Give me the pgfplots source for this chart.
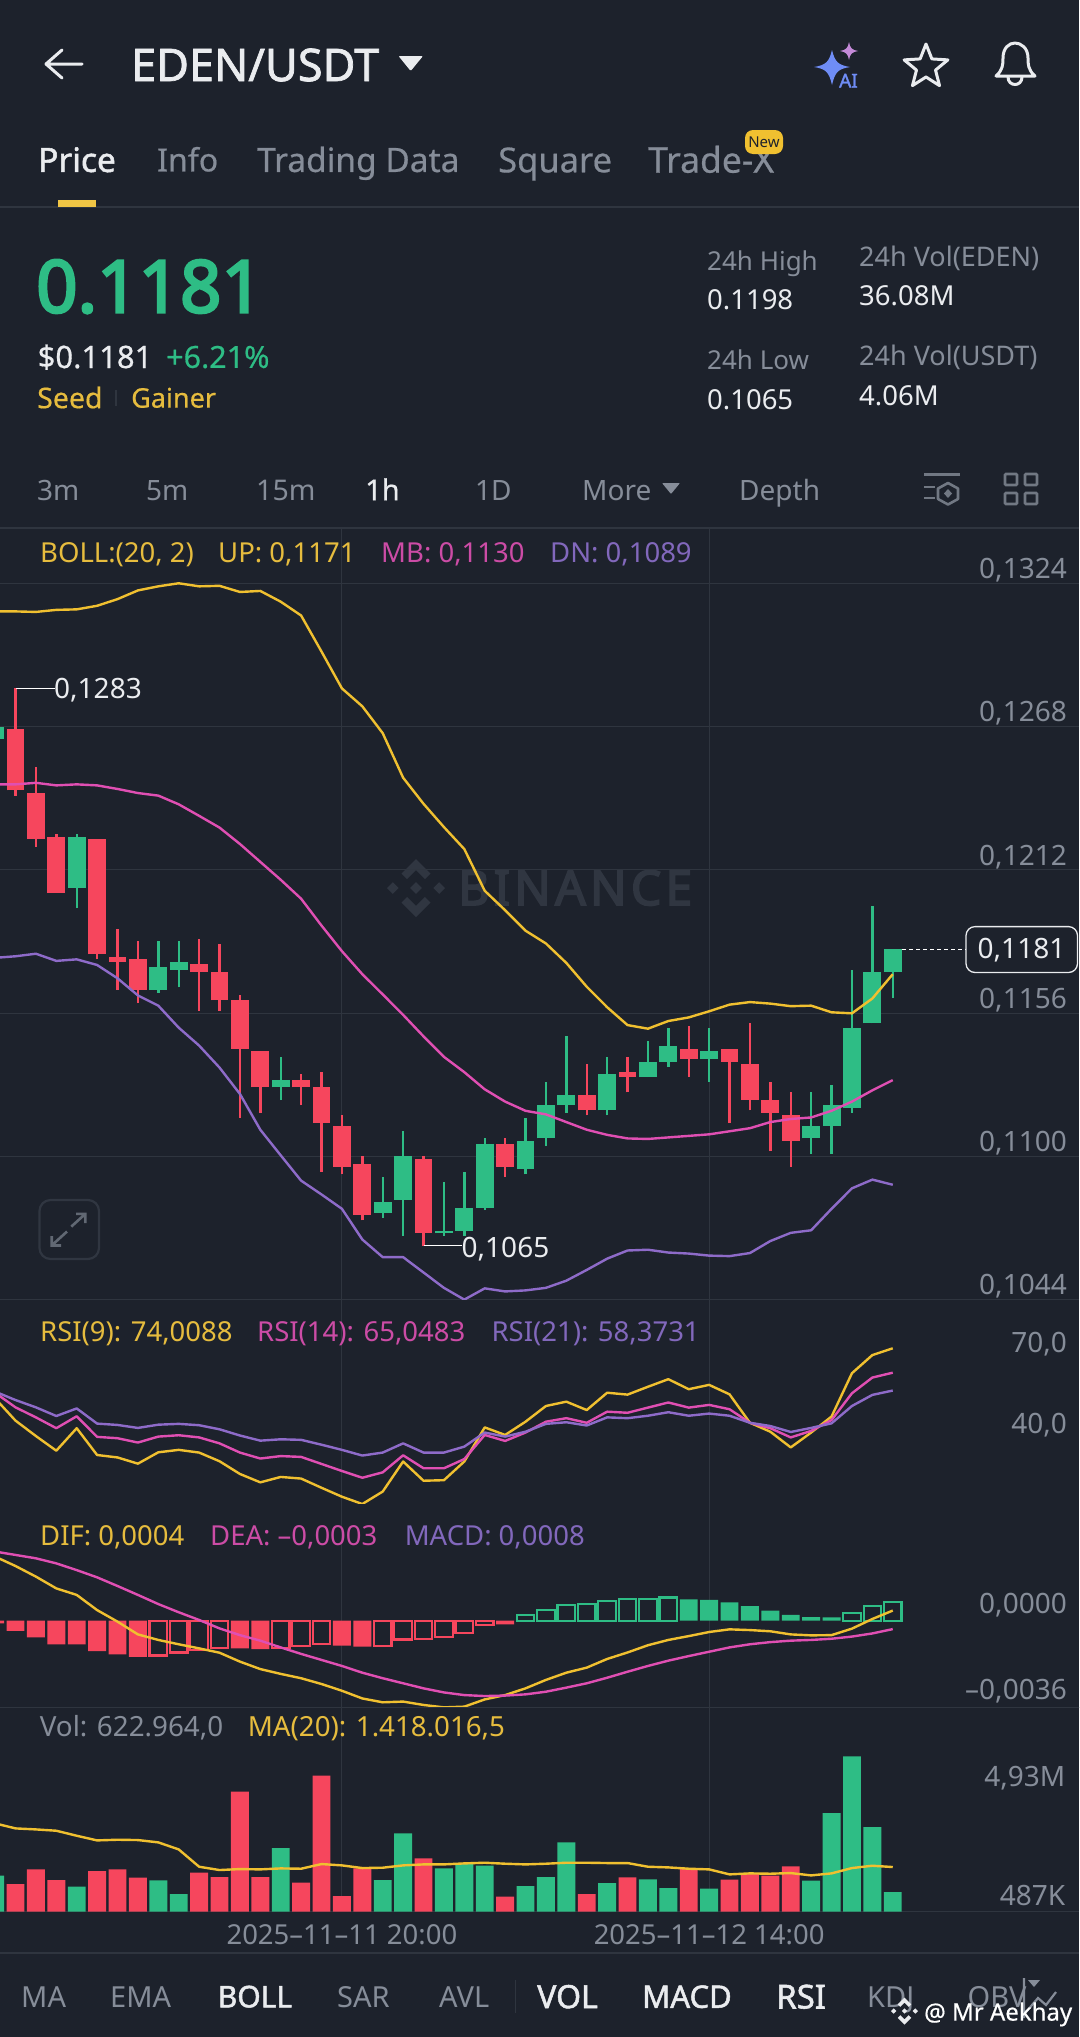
\documentclass[border=0pt]{standalone}
\usepackage{fontspec}
\usepackage{pgfplots}
\usepackage{pgfplotstable}
\pgfplotsset{compat=1.18}
\usetikzlibrary{shapes.geometric}
\setmainfont{Noto Sans}
\newfontfamily\xb{Noto Sans}[FakeBold=3.5]
\newfontfamily\bd{Noto Sans}[FakeBold=1.6]
\newfontfamily\md{Noto Sans}[FakeBold=0.5]
\definecolor{bg}{HTML}{1D222C}
\definecolor{gridc}{HTML}{2F353F}
\definecolor{upc}{HTML}{2EBD85}
\definecolor{dnc}{HTML}{F6465D}
\definecolor{yl}{HTML}{F0C030}
\definecolor{pk}{HTML}{E04FB3}
\definecolor{pu}{HTML}{8E6BC9}
\definecolor{tyl}{HTML}{E6BC3E}
\definecolor{tpk}{HTML}{CC4CA6}
\definecolor{tpu}{HTML}{8268BC}
\definecolor{gr}{HTML}{868D99}
\definecolor{wt}{HTML}{EAECEF}
\definecolor{wm}{HTML}{303641}
\definecolor{aiblue}{HTML}{6F8DF6}
\definecolor{aipink}{HTML}{C48AD8}
\newcommand{\fs}[1]{\fontsize{#1}{#1}\selectfont}
\newcommand{\T}[5]{\node[anchor=base west,inner sep=0pt,text=#3,font=\fs{#4}] at (#1,{#2+0.357*#4}) {#5};}
\newcommand{\TR}[5]{\node[anchor=base east,inner sep=0pt,text=#3,font=\fs{#4}] at (#1,{#2+0.357*#4}) {#5};}
% candles: index, OHLC, volume in millions
\pgfplotstableread{
i open high low close vol
-1 0.1263 0.1270 0.1262 0.1268 1.143
3 0.1205 0.1226 0.1197 0.1225 0.794
7 0.1165 0.1184 0.1164 0.1174 0.995
8 0.1173 0.1184 0.1166 0.1176 0.561
13 0.1127 0.1139 0.1122 0.1130 2.021
18 0.1078 0.1092 0.1076 0.1082 1.005
19 0.1083 0.1110 0.1069 0.1100 2.486
21 0.1070 0.1090 0.1069 0.1071 1.375
22 0.1071 0.1094 0.1069 0.1080 1.534
23 0.1080 0.1107 0.1079 0.1105 1.460
25 0.1095 0.1115 0.1093 0.1106 0.815
26 0.1107 0.1129 0.1104 0.1120 1.100
27 0.1120 0.1147 0.1117 0.1124 2.201
29 0.1118 0.1139 0.1116 0.1132 0.910
31 0.1131 0.1145 0.1131 0.1137 1.026
32 0.1137 0.1150 0.1135 0.1143 0.751
34 0.1138 0.1150 0.1129 0.1141 0.730
39 0.1107 0.1125 0.1101 0.1112 0.984
40 0.1112 0.1128 0.1101 0.1120 3.132
41 0.1119 0.1173 0.1117 0.1150 4.930
42 0.1152 0.1198 0.1152 0.1172 2.687
43 0.1172 0.1181 0.1162 0.1181 0.623
}\upcandles
\pgfplotstableread{
i open high low close vol
0 0.1267 0.1283 0.1241 0.1243 0.878
1 0.1242 0.1252 0.1221 0.1224 1.344
2 0.1225 0.1226 0.1203 0.1203 1.005
4 0.1224 0.1224 0.1177 0.1179 1.291
5 0.1178 0.1189 0.1165 0.1176 1.344
6 0.1177 0.1184 0.1160 0.1165 1.079
9 0.1175 0.1185 0.1157 0.1172 1.238
10 0.1172 0.1183 0.1157 0.1161 1.100
11 0.1161 0.1163 0.1115 0.1142 3.809
12 0.1141 0.1141 0.1117 0.1127 1.100
14 0.1130 0.1132 0.1120 0.1127 0.920
15 0.1127 0.1133 0.1094 0.1113 4.317
16 0.1112 0.1116 0.1093 0.1096 0.497
17 0.1097 0.1100 0.1075 0.1077 1.375
20 0.1099 0.1100 0.1065 0.1070 1.693
24 0.1105 0.1107 0.1092 0.1096 0.476
28 0.1124 0.1136 0.1116 0.1118 0.561
30 0.1133 0.1139 0.1125 0.1131 1.090
33 0.1142 0.1151 0.1131 0.1138 1.354
35 0.1142 0.1142 0.1113 0.1137 1.016
36 0.1136 0.1152 0.1118 0.1122 1.196
37 0.1122 0.1129 0.1102 0.1117 1.143
38 0.1116 0.1125 0.1096 0.1106 1.439
}\dncandles
\pgfplotstableread{
i up mb dn r9 r14 r21 dif dea ma
-1 0.13130 0.12454 0.11776 55.5 57.6 58.0 0.00266 0.00287 2.804
0 0.13130 0.12454 0.11782 47.3 52.2 54.9 0.00227 0.00273 2.645
1 0.13128 0.12460 0.11792 41.6 48.5 52.2 0.00183 0.00259 2.613
2 0.13136 0.12450 0.11764 36.2 44.5 49.0 0.00134 0.00238 2.571
3 0.13138 0.12454 0.11770 44.5 48.9 51.8 0.00107 0.00210 2.412
4 0.13152 0.12450 0.11748 34.6 41.3 46.2 0.00044 0.00180 2.264
5 0.13178 0.12436 0.11696 33.7 40.8 45.7 -0.00004 0.00144 2.285
6 0.13212 0.12420 0.11629 31.4 39.2 44.6 -0.00057 0.00107 2.275
7 0.13228 0.12410 0.11589 35.6 41.4 45.8 -0.00080 0.00069 2.201
8 0.13240 0.12376 0.11503 36.5 41.9 46.1 -0.00098 0.00035 1.978
9 0.13228 0.12331 0.11433 35.5 41.1 45.6 -0.00115 0.00003 1.428
10 0.13230 0.12285 0.11347 32.3 38.9 44.1 -0.00133 -0.00032 1.323
11 0.13206 0.12221 0.11244 27.6 35.5 41.8 -0.00170 -0.00060 1.354
12 0.13210 0.12151 0.11104 24.5 33.3 39.9 -0.00201 -0.00083 1.344
13 0.13168 0.12081 0.11004 26.5 34.2 40.4 -0.00221 -0.00111 1.375
14 0.13114 0.12007 0.10905 25.9 33.9 40.2 -0.00239 -0.00138 1.365
15 0.12973 0.11902 0.10851 22.5 31.3 38.4 -0.00263 -0.00163 1.513
16 0.12829 0.11802 0.10795 19.2 28.7 36.5 -0.00291 -0.00188 1.471
17 0.12759 0.11712 0.10675 16.5 26.2 34.4 -0.00323 -0.00216 1.386
18 0.12654 0.11633 0.10606 21.1 28.2 35.5 -0.00339 -0.00239 1.397
19 0.12480 0.11553 0.10606 32.2 34.5 38.9 -0.00336 -0.00260 1.471
20 0.12378 0.11469 0.10546 25.1 29.7 35.5 -0.00350 -0.00281 1.502
21 0.12287 0.11389 0.10486 25.3 29.7 35.5 -0.00360 -0.00298 1.502
22 0.12201 0.11329 0.10440 32.2 33.1 37.7 -0.00357 -0.00309 1.534
23 0.12038 0.11262 0.10484 44.8 42.0 42.9 -0.00327 -0.00313 1.555
24 0.11962 0.11214 0.10472 42.0 39.8 41.4 -0.00309 -0.00311 1.524
25 0.11882 0.11178 0.10476 46.9 42.9 43.2 -0.00281 -0.00306 1.502
26 0.11832 0.11164 0.10486 52.7 46.9 46.1 -0.00246 -0.00295 1.524
27 0.11756 0.11134 0.10514 54.3 48.2 46.7 -0.00216 -0.00278 1.555
28 0.11663 0.11104 0.10556 51.2 46.5 45.5 -0.00195 -0.00260 1.555
29 0.11583 0.11084 0.10600 57.6 50.6 48.5 -0.00159 -0.00237 1.545
30 0.11513 0.11070 0.10632 56.9 50.2 48.2 -0.00132 -0.00212 1.545
31 0.11499 0.11068 0.10635 59.8 52.1 49.1 -0.00102 -0.00188 1.428
32 0.11529 0.11074 0.10624 62.6 54.0 50.4 -0.00080 -0.00166 1.407
33 0.11543 0.11080 0.10620 58.9 52.1 49.1 -0.00064 -0.00147 1.365
34 0.11567 0.11086 0.10612 60.5 53.1 49.9 -0.00047 -0.00129 1.344
35 0.11593 0.11098 0.10610 57.0 51.5 49.1 -0.00036 -0.00111 1.185
36 0.11603 0.11110 0.10622 46.5 46.5 46.5 -0.00039 -0.00098 1.217
37 0.11597 0.11134 0.10669 43.2 44.5 45.3 -0.00044 -0.00089 1.206
38 0.11587 0.11146 0.10701 37.4 41.1 43.1 -0.00057 -0.00083 1.227
39 0.11589 0.11152 0.10711 42.9 43.5 44.6 -0.00061 -0.00080 1.153
40 0.11563 0.11178 0.10795 48.8 47.5 46.3 -0.00060 -0.00075 1.217
41 0.11559 0.11214 0.10875 64.8 57.4 52.7 -0.00033 -0.00066 1.386
42 0.11617 0.11258 0.10909 71.5 63.2 56.8 0.00007 -0.00053 1.460
43 0.11712 0.11298 0.10889 74.0 65.0 58.4 0.00042 -0.00035 1.418
}\ind
\pgfplotsset{
 panel/.style={scale only axis,width=1079pt,xmin=-0.7598,xmax=52.13,
  axis line style={draw=none},major tick length=0pt,tick style={draw=none},
  xtick={16,34},xticklabels={},xmajorgrids,ymajorgrids,
  scaled y ticks=false,
  major grid style={gridc,line width=1.1pt},
  yticklabel pos=right,
  y tick label style={anchor=base east,inner sep=0pt,text=gr,font=\fs{28},xshift=-12pt},
 },
 ln/.style={line width=2.4pt,line join=round,mark=none,forget plot},
 body/.style={draw=none,mark=none,forget plot,error bars/.cd,y dir=plus,y explicit,error mark=none,error bar style={color=#1,line width=17.9pt}},
 wick/.style={draw=none,mark=none,forget plot,error bars/.cd,y dir=plus,y explicit,error mark=none,error bar style={color=#1,line width=2.4pt}},
 vb/.style={ybar,bar width=17.9pt,bar shift=0pt,fill=#1,draw=none,forget plot},
 hb/.style={ybar,bar width=17.5pt,bar shift=0pt,fill=none,draw=#1,line width=2.2pt,forget plot},
}
\begin{document}
\begin{tikzpicture}
\useasboundingbox (0pt,0pt) rectangle (1079pt,-2037pt);
\fill[bg] (0pt,0pt) rectangle (1079pt,-2037pt);
% watermark under the chart
\begin{scope}[x=1pt,y=-1pt]
 \begin{scope}[shift={(416,888)},x=29pt,y=29pt,wm]
  \fill (0,.2)--(.2,0)--(0,-.2)--(-.2,0)--cycle;
  \fill (-.8,.2)--(-.6,0)--(-.8,-.2)--(-1,0)--cycle;
  \fill (.8,.2)--(1,0)--(.8,-.2)--(.6,0)--cycle;
  \fill (0,.62)--(-.31,.31)--(-.5,.5)--(0,1)--(.5,.5)--(.31,.31)--cycle;
  \fill (0,-.62)--(-.31,-.31)--(-.5,-.5)--(0,-1)--(.5,-.5)--(.31,-.31)--cycle;
 \end{scope}
 \node[anchor=base west,inner sep=0pt,text=wm,font=\fs{48}\xb\addfontfeature{LetterSpace=9}] at (458,905) {BINANCE};
\end{scope}
% MAIN
\begin{axis}[panel,at={(0pt,-1299.6pt)},anchor=south west,height=771.6pt,
 ymin=0.1044,ymax=0.13456,
 ytick={0.1044,0.1100,0.1156,0.1212,0.1268,0.1324},
 yticklabels={{0,1044},{0,1100},{0,1156},{0,1212},{0,1268},{0,1324}},
 y tick label style={yshift=4.8pt}]
 \addplot[wick=upc] table[x=i,y=low,y error expr=\thisrow{high}-\thisrow{low}] {\upcandles};
 \addplot[wick=dnc] table[x=i,y=low,y error expr=\thisrow{high}-\thisrow{low}] {\dncandles};
 \addplot[body=upc] table[x=i,y=open,y error expr=\thisrow{close}-\thisrow{open}] {\upcandles};
 \addplot[body=dnc] table[x=i,y=close,y error expr=\thisrow{open}-\thisrow{close}] {\dncandles};
 \addplot[ln,yl] table[x=i,y=up] {\ind};
 \addplot[ln,pk] table[x=i,y=mb] {\ind};
 \addplot[ln,pu] table[x=i,y=dn] {\ind};
 \addplot[forget plot,white,line width=1pt] coordinates {(0,0.1283) (1.94,0.1283)};
 \addplot[forget plot,white,line width=1pt] coordinates {(20,0.1065) (21.89,0.1065)};
 \addplot[forget plot,white,line width=0.9pt,dash pattern=on 4pt off 3pt] coordinates {(43.46,0.1181) (46.6,0.1181)};
\end{axis}
% RSI
\begin{axis}[panel,at={(0pt,-1503.3pt)},anchor=south west,height=203.7pt,
 ymin=16.76,ymax=91.98,ytick={40,70},yticklabels={{40,0},{70,0}},
 ymajorgrids=false,y tick label style={yshift=7pt}]
 \addplot[ln,yl] table[x=i,y=r9] {\ind};
 \addplot[ln,pk] table[x=i,y=r14] {\ind};
 \addplot[ln,pu] table[x=i,y=r21] {\ind};
\end{axis}
% MACD
\begin{axis}[panel,at={(0pt,-1707.3pt)},anchor=south west,height=204pt,
 ymin=-0.003598,ymax=0.004874,ytick={-0.0036,0},yticklabels={{–0,0036},{0,0000}},
 ymajorgrids=false,y tick label style={yshift=7.5pt}]
 \addplot[vb=dnc] coordinates {(-1,-0.00011)(0,-0.00042)(1,-0.00069)(2,-0.00098)(3,-0.00098)(4,-0.00126)(5,-0.00140)(6,-0.00150)(11,-0.00115)(12,-0.00118)(16,-0.00104)(17,-0.00108)(24,-0.00015)};
 \addplot[hb=dnc] coordinates {(7,-0.00145)(8,-0.00132)(9,-0.00122)(10,-0.00115)(13,-0.00115)(14,-0.00105)(15,-0.00098)(18,-0.00104)(19,-0.00078)(20,-0.00076)(21,-0.00069)(22,-0.00050)(23,-0.00018)};
 \addplot[hb=upc] coordinates {(25,0.00024)(26,0.00044)(27,0.00065)(28,0.00069)(29,0.00082)(30,0.00089)(31,0.00091)(32,0.00096)(41,0.00033)(42,0.00061)(43,0.00079)};
 \addplot[vb=upc] coordinates {(33,0.00089)(34,0.00086)(35,0.00076)(36,0.00060)(37,0.00042)(38,0.00024)(39,0.00015)(40,0.00014)};
 \addplot[ln,yl] table[x=i,y=dif] {\ind};
 \addplot[ln,pk] table[x=i,y=dea] {\ind};
 \addplot[forget plot,gridc,line width=1.1pt] coordinates {(-1,-0.003598)(53,-0.003598)};
\end{axis}
% VOL
\begin{axis}[panel,at={(0pt,-1911.7pt)},anchor=south west,height=204.4pt,
 ymin=0,ymax=6.489,ytick={0},yticklabels={},
 xticklabels={{2025–11–11 20:00},{2025–11–12 14:00}},
 x tick label style={anchor=base,inner sep=0pt,text=gr,font=\fs{27.5},yshift=-33pt}]
 \addplot[vb=upc] table[x=i,y=vol] {\upcandles};
 \addplot[vb=dnc] table[x=i,y=vol] {\dncandles};
 \addplot[ln,yl] table[x=i,y=ma] {\ind};
\end{axis}
\begin{scope}[x=1pt,y=-1pt]
 % separators
 \draw[gridc,line width=1.1pt] (0,528)--(1079,528);
 \draw[gridc,line width=1.1pt] (0,1953)--(1079,1953);
 \draw[gridc,line width=1.1pt] (0,207)--(1079,207);
 % header
 \draw[wt,line width=3pt,line cap=round,line join=round] (82,64)--(46,64) (62,50)--(46,64)--(62,78);
 \T{131}{65}{wt}{45}{\bd EDEN/USDT}
 \fill[wt,rounded corners=1pt] (398.5,56)--(423,56)--(410.7,71)--cycle;
 % AI icon
 \fill[aiblue] (832,50) .. controls (835,62) and (838,65) .. (850,67) .. controls (838,69) and (835,72) .. (832,85) .. controls (829,72) and (826,69) .. (814,67) .. controls (826,65) and (829,62) .. (832,50) -- cycle;
 \fill[aipink] (849,42) .. controls (850,48) and (852,50) .. (858,51) .. controls (852,52) and (850,54) .. (849,60) .. controls (848,54) and (846,52) .. (840,51) .. controls (846,50) and (848,48) .. (849,42) -- cycle;
 \node[anchor=base west,inner sep=0pt,text=aiblue,font=\fs{19}\bd] at (839,87.5) {AI};
 \node[star,star points=5,star point ratio=2.3,minimum size=46pt,draw=wt,line width=3pt,line join=round,inner sep=0pt] at (926,67) {};
 \draw[wt,line width=3pt,line join=round] (996,76) .. controls (1003,70) and (1003,64) .. (1003,58) .. controls (1003,48) and (1009,43) .. (1015,43) .. controls (1021,43) and (1028,48) .. (1028,58) .. controls (1028,64) and (1028,70) .. (1035,76) -- cycle;
 \draw[wt,line width=3pt] (1008,77) .. controls (1008,87) and (1022,87) .. (1022,77);
 % tabs
 \T{38}{160}{wt}{33.5}{\bd Price}
 \T{157}{160}{gr}{32}{\md Info}
 \T{257}{160}{gr}{33.5}{\md Trading Data}
 \T{498}{160}{gr}{34.5}{\md Square}
 \T{648}{160}{gr}{35.5}{\md Trade-X}
 \fill[yl,rounded corners=8pt] (745,130) rectangle (783,154);
 \node[inner sep=0pt,text=bg,font=\fs{15}] at (764,142) {New};
 \fill[yl!90!white] (58,199.5) rectangle (96,207);
 % price block
 \T{36}{286.5}{upc}{72.5}{\xb 0.1181}
 \T{37.5}{357}{wt}{31}{\md\$0.1181}
 \T{166}{357}{upc}{30.5}{\md+6.21\%}
 \T{37}{398}{tyl}{28.5}{\md Seed}
 \fill[gridc] (115,390) rectangle (117,406);
 \T{131}{398}{tyl}{27}{\md Gainer}
 \T{707}{261}{gr}{26}{24h High}
 \T{707}{299.5}{wt}{27.5}{0.1198}
 \T{707}{360}{gr}{26}{24h Low}
 \T{707}{399.5}{wt}{27.5}{0.1065}
 \T{859}{257}{gr}{27}{24h Vol(EDEN)}
 \T{859}{296}{wt}{27.5}{36.08M}
 \T{859}{356}{gr}{27}{24h Vol(USDT)}
 \T{859}{395.5}{wt}{27.5}{4.06M}
 % timeframes
 \T{37}{490}{gr}{28}{3m}
 \T{146}{490}{gr}{28}{5m}
 \T{256}{490}{gr}{28.5}{15m}
 \T{365}{490}{wt}{29}{\md 1h}
 \T{475}{490}{gr}{28}{1D}
 \T{582}{490}{gr}{28}{More}
 \fill[gr,rounded corners=.8pt] (662,483)--(680,483)--(671,494)--cycle;
 \T{739}{490}{gr}{28}{Depth}
 \draw[gr!80!bg,line width=2.6pt] (924,474.5)--(960,474.5) (924,487)--(935,487) (924,498)--(935,498);
 \draw[gr!80!bg,line width=2.6pt,line join=round] (948,483)--(958,488.5)--(958,499)--(948,504.5)--(938,499)--(938,488.5)--cycle;
 \fill[gr!80!bg] (948,489) -- (952,493.5) -- (948,498) -- (944,493.5) -- cycle;
 \foreach \xx in {1005,1025}{\foreach \yy in {474,493}{\draw[gr!80!bg,line width=2.7pt,rounded corners=1pt] (\xx,\yy) rectangle ++(12,11);}}
 % legends
 \T{40}{553}{tyl}{27.5}{BOLL:(20, 2)}
 \T{218}{553}{tyl}{27.5}{UP: 0,1171}
 \T{381}{553}{tpk}{27.5}{MB: 0,1130}
 \T{550}{553}{tpu}{27.5}{DN: 0,1089}
 \T{54}{688}{wt}{28}{0,1283}
 \T{461.5}{1247}{wt}{28}{0,1065}
 \filldraw[fill=bg,draw=wt,line width=1.3pt,rounded corners=9pt] (966,926.6) rectangle (1077.5,972.5);
 \node[inner sep=0pt,text=wt,font=\fs{28}] at (1021.5,950) {0,1181};
 % expand icon
 \draw[wm,line width=2.2pt,rounded corners=11pt] (39.5,1200) rectangle (99,1259);
 \draw[gr!65!bg,line width=2.6pt] (71.3,1226.6)--(85.4,1213.8) (76,1213.8)--(85.4,1213.8)--(85.4,1223);
 \draw[gr!65!bg,line width=2.6pt] (67,1231.5)--(51.7,1245.5) (61,1245.5)--(51.7,1245.5)--(51.7,1236);
 \T{40}{1331.7}{tyl}{27.5}{RSI(9): 74,0088}
 \T{257}{1331.7}{tpk}{27.5}{RSI(14): 65,0483}
 \T{491.4}{1331.7}{tpu}{27.5}{RSI(21): 58,3731}
 \T{40}{1535.7}{tyl}{27.5}{DIF: 0,0004}
 \T{210}{1535.7}{tpk}{27.5}{DEA: –0,0003}
 \T{404.6}{1535.7}{tpu}{27.5}{MACD: 0,0008}
 \T{39.6}{1726.7}{gr}{27.8}{Vol: 622.964,0}
 \T{247.6}{1726.7}{tyl}{27.7}{MA(20): 1.418.016,5}
 \TR{1065.5}{1776}{gr}{28}{4,93M}
 \TR{1065.5}{1895}{gr}{28}{487K}
 % bottom bar
 \T{21}{1996.7}{gr}{29}{MA}
 \T{110}{1996.7}{gr}{29}{EMA}
 \T{217.6}{1996.7}{wt}{30}{\bd BOLL}
 \T{337}{1996.7}{gr}{29}{SAR}
 \T{439}{1996.7}{gr}{29}{AVL}
 \draw[gridc,line width=1.1pt] (515.5,1980)--(515.5,2013);
 \T{537}{1996.7}{wt}{32}{\bd VOL}
 \T{642}{1996.7}{wt}{31}{\bd MACD}
 \T{776}{1996.7}{wt}{33}{\bd RSI}
 \T{867}{1996.7}{gr}{29}{KDJ}
 \T{967.5}{1996.7}{gr}{29}{OBV}
 \draw[gr,line width=2.2pt] (1024,1978)--(1024,2018) (1026,2012)--(1038,1998)--(1046,2005)--(1056,1992);
 \fill[gr] (1028,1980)--(1040,1980)--(1034,1987)--cycle;
 % overlay credit
 \begin{scope}[shift={(904.5,2011)},x=13.5pt,y=13.5pt,wt]
  \fill (0,.2)--(.2,0)--(0,-.2)--(-.2,0)--cycle;
  \fill (-.8,.2)--(-.6,0)--(-.8,-.2)--(-1,0)--cycle;
  \fill (.8,.2)--(1,0)--(.8,-.2)--(.6,0)--cycle;
  \fill (0,.62)--(-.31,.31)--(-.5,.5)--(0,1)--(.5,.5)--(.31,.31)--cycle;
  \fill (0,-.62)--(-.31,-.31)--(-.5,-.5)--(0,-1)--(.5,-.5)--(.31,-.31)--cycle;
 \end{scope}
 \T{924}{2012}{white}{24}{\md @ Mr Aekhay}
\end{scope}
\end{tikzpicture}
\end{document}
